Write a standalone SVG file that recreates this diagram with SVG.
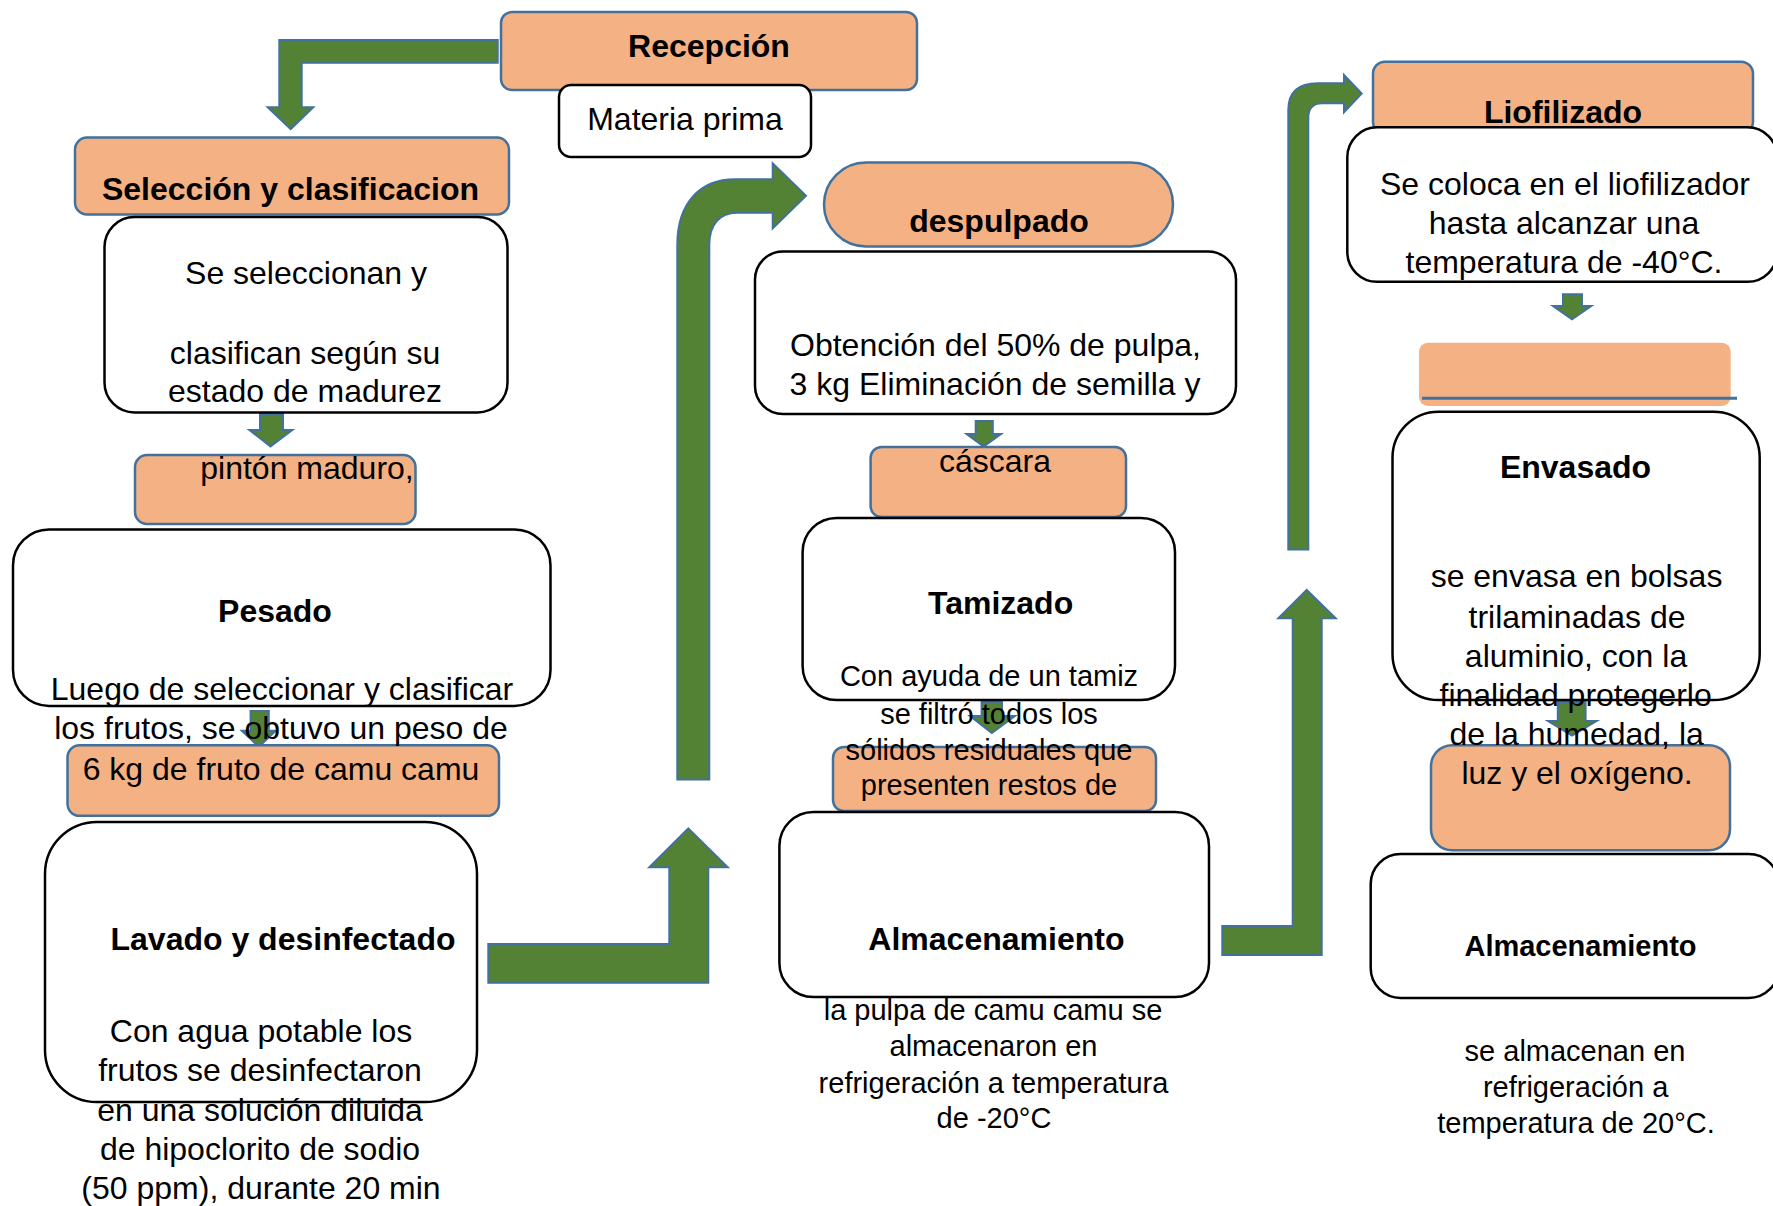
<svg xmlns="http://www.w3.org/2000/svg" width="1773" height="1206" viewBox="0 0 1773 1206">
  <style>
    text { font-family: "Liberation Sans", Arial, sans-serif; fill: #000; text-anchor: middle; }
    .h { font-size: 32px; font-weight: bold; }
    .hs { font-size: 29px; font-weight: bold; }
    .t { font-size: 32px; }
    .s { font-size: 29px; }
    .head { fill: #F4B183; stroke: #41719C; stroke-width: 2.5; }
    .body { fill: #FFFFFF; stroke: #000000; stroke-width: 2.5; }
    .arrow { fill: #548235; stroke: #41719C; stroke-width: 2; stroke-linejoin: miter; }
  </style>
  <rect width="1773" height="1206" fill="#FFFFFF"/>

  <!-- flow arrows -->
  <g id="connectors">
    <path class="arrow" d="M497.7,40 H279.3 V107.3 H267.7 L290.7,129 L313.3,107.3 H301.7 V62.7 H497.7 Z"/>
    <path class="arrow" d="M260,414 H283 V430 H292.3 L270.5,446.4 L249.4,430 H260 Z"/>
    <path class="arrow" d="M250.6,711 H268.8 V730.7 H275.8 L258.8,746.8 L241.8,730.7 H250.6 Z"/>
    <path class="arrow" d="M488.3,944 H669.3 V867.3 H649.3 L688.3,828.3 L727.7,867.3 H708.3 V982.7 H488.3 Z"/>
    <path class="arrow" d="M677.3,779.5 V245 C677.3,203 700,179.3 735,179.3 H772.7 V163.3 L806,195.8 L772.7,228.3 V212.7 H737 C720,212.7 709.3,224 709.3,245 V779.5 Z"/>
    <path class="arrow" d="M975.7,421 H992.8 V434 H1001 L983.6,446.4 L966.6,434 H975.7 Z"/>
    <path class="arrow" d="M981.6,702 H1002 V716 H1015 L991.8,733 L970,716 H981.6 Z"/>
    <path class="arrow" d="M1222.3,926 H1292.7 V618.3 H1278.3 L1306.7,590 L1335.7,618.3 H1321.7 V955 H1222.3 Z"/>
    <path class="arrow" d="M1288.3,549.5 V110 C1288.3,93 1298,83.3 1318,83.3 H1344 V75 L1361.7,93.6 L1344,112.3 V103.3 H1322 C1313,103.3 1308.3,109 1308.3,118 V549.5 Z"/>
    <path class="arrow" d="M1563,294.3 H1582 V306 H1591.3 L1572,319.3 L1553,306 H1563 Z"/>
    <path class="arrow" d="M1557.8,702 H1585.6 V721 H1596.6 L1572,735.6 L1548,721 H1557.8 Z"/>
  </g>

  <!-- column 1 -->
  <g id="recepcion">
    <rect class="head" x="501" y="12" width="416" height="78" rx="11"/>
    <text class="h" x="709" y="57">Recepción</text>
  </g>
  <g id="materia-prima">
    <rect class="body" x="559" y="85" width="252" height="72" rx="12"/>
    <text class="t" x="685" y="130">Materia prima</text>
  </g>
  <g id="seleccion">
    <rect class="head" x="75" y="137.5" width="434" height="77" rx="12"/>
    <text class="h" x="290.5" y="200">Selección y clasificacion</text>
  </g>
  <g id="seleccion-detalle">
    <rect class="body" x="104.5" y="217" width="403" height="195.5" rx="30"/>
    <text class="t" x="306" y="284">Se seleccionan y</text>
    <text class="t" x="305" y="364">clasifican según su</text>
    <text class="t" x="305" y="402">estado de madurez</text>
  </g>
  <g id="pinton">
    <rect class="head" x="135" y="455" width="280.5" height="69" rx="12"/>
    <text class="t" x="307" y="479">pintón maduro,</text>
  </g>
  <g id="peso-resultado">
    <rect class="head" x="67.5" y="745.3" width="431.5" height="70.5" rx="12"/>
    <text class="t" x="281" y="780">6 kg de fruto de camu camu</text>
  </g>
  <g id="pesado">
    <rect class="body" x="13" y="529.4" width="537.5" height="176.6" rx="36"/>
    <text class="h" x="275" y="622">Pesado</text>
    <text class="t" x="282" y="700">Luego de seleccionar y clasificar</text>
    <text class="t" x="281" y="739">los frutos, se obtuvo un peso de</text>
  </g>
  <g id="lavado">
    <rect class="body" x="45" y="822" width="432" height="280" rx="52"/>
    <text class="h" x="283" y="950">Lavado y desinfectado</text>
    <text class="t" x="261" y="1042">Con agua potable los</text>
    <text class="t" x="260" y="1081">frutos se desinfectaron</text>
    <text class="t" x="260" y="1121">en una solución diluida</text>
    <text class="t" x="260" y="1160">de hipoclorito de sodio</text>
    <text class="t" x="261" y="1199">(50 ppm), durante 20 min</text>
  </g>

  <!-- column 2 -->
  <g id="despulpado">
    <rect class="head" x="824" y="162.5" width="349" height="84" rx="42"/>
    <text class="h" x="999" y="232">despulpado</text>
  </g>
  <g id="despulpado-detalle">
    <rect class="body" x="755" y="251.5" width="481" height="162.5" rx="28"/>
    <text class="t" x="995.5" y="356">Obtención del 50% de pulpa,</text>
    <text class="t" x="995" y="395">3 kg Eliminación de semilla y</text>
  </g>
  <g id="cascara">
    <rect class="head" x="870.6" y="447" width="255.4" height="70" rx="11"/>
    <text class="t" x="995" y="472">cáscara</text>
  </g>
  <g id="restos">
    <rect class="head" x="833" y="747" width="323" height="64" rx="11"/>
  </g>
  <g id="tamizado">
    <rect class="body" x="802.6" y="518" width="372.4" height="182" rx="34"/>
    <text class="h" x="1000.6" y="614">Tamizado</text>
    <text class="s" x="989" y="686">Con ayuda de un tamiz</text>
    <text class="s" x="989" y="724">se filtró todos los</text>
    <text class="s" x="989" y="759.5">sólidos residuales que</text>
    <text class="s" x="989" y="795">presenten restos de</text>
  </g>
  <g id="almacenamiento-pulpa">
    <rect class="body" x="779.4" y="812" width="429.6" height="185" rx="34"/>
    <text class="h" x="996.4" y="950">Almacenamiento</text>
    <text class="s" x="993" y="1020">la pulpa de camu camu se</text>
    <text class="s" x="993.5" y="1056">almacenaron en</text>
    <text class="s" x="993.5" y="1093">refrigeración a temperatura</text>
    <text class="s" x="994" y="1128">de -20°C</text>
  </g>

  <!-- column 3 -->
  <g id="liofilizado">
    <rect class="head" x="1373" y="61.7" width="380" height="72" rx="12"/>
    <text class="h" x="1563" y="123">Liofilizado</text>
  </g>
  <g id="liofilizado-detalle">
    <rect class="body" x="1347.3" y="127.3" width="430" height="154.5" rx="30"/>
    <text class="t" x="1565" y="195">Se coloca en el liofilizador</text>
    <text class="t" x="1564" y="234">hasta alcanzar una</text>
    <text class="t" x="1564" y="273">temperatura de -40°C.</text>
  </g>
  <g id="envasado-titulo">
    <rect x="1419" y="342.7" width="311.7" height="63.3" rx="9" fill="#F4B183"/>
    <line x1="1422" y1="398.3" x2="1737" y2="398.3" stroke="#41719C" stroke-width="3"/>
  </g>
  <g id="envasado-nota">
    <rect class="head" x="1431" y="745.3" width="299" height="105" rx="21"/>
  </g>
  <g id="envasado">
    <rect class="body" x="1392.5" y="411.7" width="367.2" height="288.3" rx="46"/>
    <text class="h" x="1575.5" y="478">Envasado</text>
    <text class="t" x="1576.5" y="587">se envasa en bolsas</text>
    <text class="t" x="1577" y="627.6">trilaminadas de</text>
    <text class="t" x="1576" y="666.7">aluminio, con la</text>
    <text class="t" x="1575.6" y="706">finalidad protegerlo</text>
    <text class="t" x="1576.6" y="745">de la humedad, la</text>
    <text class="t" x="1577" y="784">luz y el oxígeno.</text>
  </g>
  <g id="almacenamiento-final">
    <rect class="body" x="1370.7" y="854" width="408" height="144" rx="30"/>
    <text class="hs" x="1580.5" y="956">Almacenamiento</text>
    <text class="s" x="1575" y="1061">se almacenan en</text>
    <text class="s" x="1575.6" y="1097">refrigeración a</text>
    <text class="s" x="1576" y="1133">temperatura de 20°C.</text>
  </g>
</svg>
